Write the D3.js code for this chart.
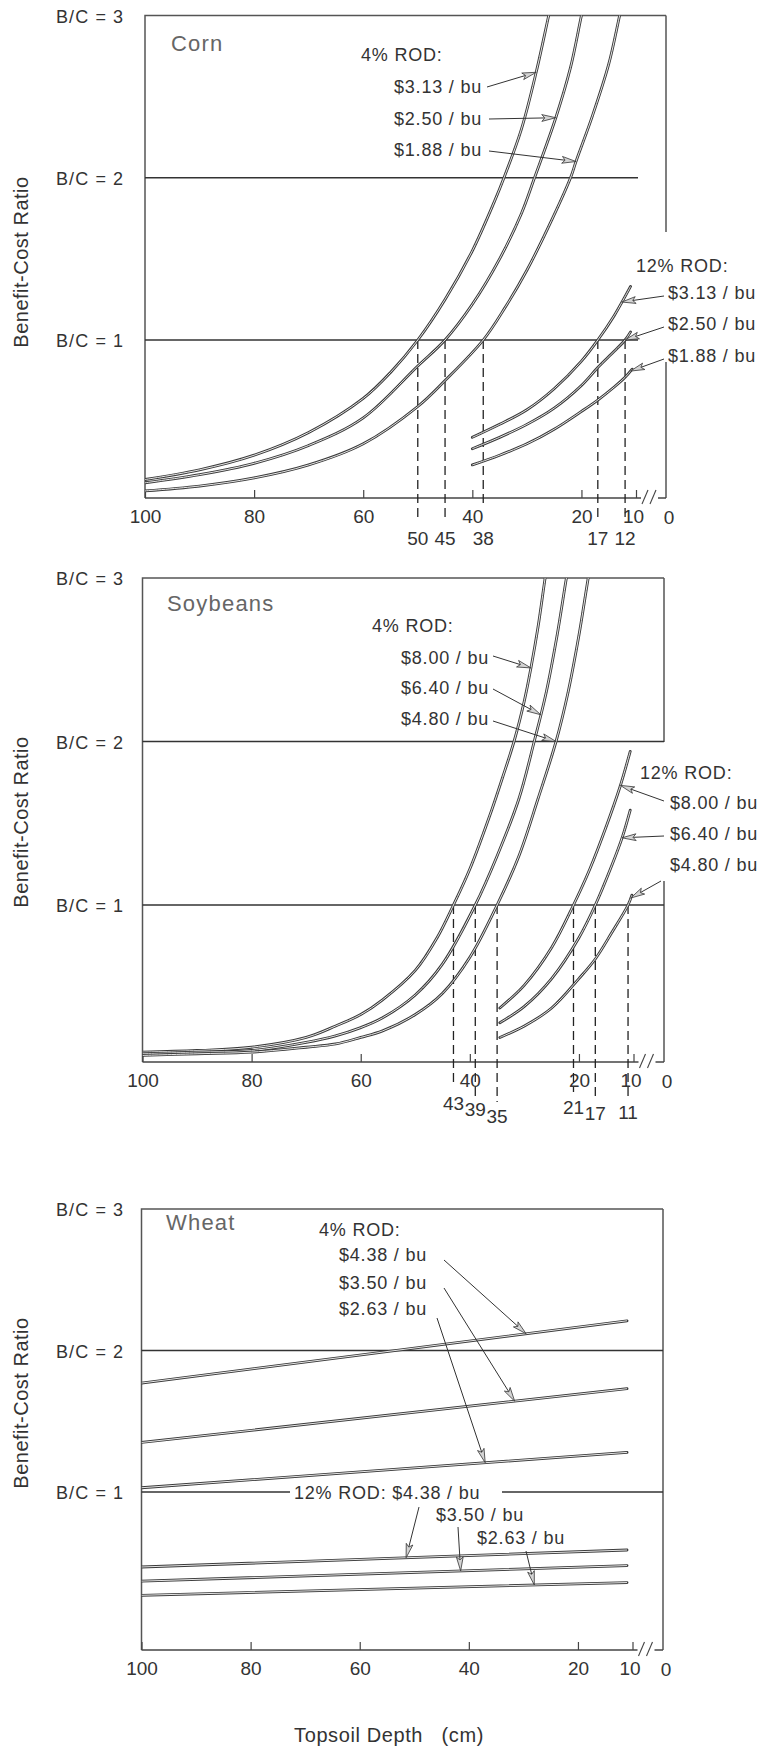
<!DOCTYPE html>
<html>
<head>
<meta charset="utf-8">
<script src="https://cdn.jsdelivr.net/npm/d3@7"></script>
<style>
  body { margin: 0; background: #fff; }
  svg text { font-family: "Liberation Sans", Arial, Helvetica, sans-serif; }
</style>
</head>
<body>
<svg id="chart" width="757" height="1752"></svg>
<script>
// ---------- data: [topsoil depth (cm), benefit-cost ratio] ----------
const depthTicks = [100, 80, 60, 40, 20, 10];
const bcLevels = [1, 2, 3];

// Corn, 4% rate of discount
const corn4_313 = [[100,0.14],[90,0.2],[80,0.29],[70,0.43],[60,0.64],[55,0.8],[50,1.0],[45,1.25],[40,1.55],[36,1.85],[34.2,2.0],[31,2.3],[28.3,2.65],[26,3.0],[25,3.15]];
const corn4_250 = [[100,0.12],[90,0.17],[80,0.24],[70,0.35],[60,0.52],[50,0.84],[45,1.0],[40,1.22],[35,1.5],[31,1.78],[28.6,2.0],[24.7,2.37],[22,2.68],[20,3.0],[19,3.15]];
const corn4_188 = [[100,0.07],[90,0.1],[80,0.15],[70,0.23],[60,0.36],[50,0.59],[45,0.75],[38,1.0],[34,1.2],[30,1.43],[26,1.7],[22,2.0],[21,2.1],[18,2.38],[15,2.7],[13,3.0],[12,3.15]];
// Corn, 12% rate of discount
const corn12_313 = [[40,0.40],[35,0.48],[30,0.57],[25,0.70],[20,0.87],[17,1.0],[14,1.15],[11,1.33]];
const corn12_250 = [[40,0.33],[35,0.40],[30,0.48],[25,0.58],[20,0.72],[17,0.83],[14,0.93],[12,1.0],[11,1.05]];
const corn12_188 = [[40,0.23],[35,0.29],[30,0.36],[25,0.45],[20,0.56],[17,0.63],[14,0.71],[12,0.77],[10.7,0.82]];
const cornBreakEven = [50, 45, 38, 17, 12];

// Soybeans, 4%
const soy4_800 = [[100,0.10],[90,0.11],[80,0.13],[70,0.19],[64.6,0.26],[60,0.33],[56,0.42],[50,0.6],[46,0.8],[43,1.0],[40,1.22],[36,1.58],[34,1.78],[31.9,2.0],[30,2.25],[28.8,2.45],[27.5,2.7],[26.2,3.0],[25.5,3.15]];
const soy4_640 = [[100,0.09],[90,0.10],[80,0.11],[70,0.16],[64.6,0.20],[60,0.25],[56,0.31],[50,0.45],[45,0.64],[39,1.0],[35,1.3],[31,1.65],[28.2,2.0],[26,2.3],[24,2.65],[22.3,3.0],[21.5,3.15]];
const soy4_480 = [[100,0.08],[90,0.09],[80,0.10],[70,0.13],[64.6,0.15],[60,0.19],[56,0.23],[50,0.33],[45,0.46],[40,0.68],[35,1.0],[31,1.3],[27.5,1.65],[24.2,2.0],[22,2.3],[20,2.65],[18.3,3.0],[17.5,3.15]];
// Soybeans, 12%
const soy12_800 = [[34.5,0.37],[30,0.51],[25,0.74],[21,1.0],[18,1.22],[15,1.48],[12.5,1.72],[10.6,1.94]];
const soy12_640 = [[34.5,0.28],[30,0.38],[25,0.55],[20,0.8],[17,1.0],[14,1.24],[12,1.42],[10.6,1.58]];
const soy12_480 = [[34.5,0.19],[30,0.26],[25,0.37],[20,0.55],[17,0.67],[14,0.83],[11,1.0],[10.3,1.06]];
const soyBreakEven = [43, 39, 35, 21, 17, 11];

// Wheat, 4% and 12%
const wheat4_438 = [[100,1.77],[11,2.21]];
const wheat4_350 = [[100,1.35],[11,1.73]];
const wheat4_263 = [[100,1.03],[11,1.28]];
const wheat12_438 = [[100,0.47],[11,0.59]];
const wheat12_350 = [[100,0.37],[11,0.48]];
const wheat12_263 = [[100,0.27],[11,0.36]];

// ---------- layout ----------
const INK = "#333";
const svg = d3.select("#chart");

const panels = [
  {
    name: "Corn", left: 145, right: 666, span: 491, top: 15.5, y1: 340, axisY: 498,
    titleX: 171, titleY: 51, yTitleY: 262,
    bcEnd: { 1: 638, 2: 638 }, rightSegs: [[15.5, 232], [362, 498]],
    rod4: { x: 361, y: 61, labels: [
      { t: "$3.13 / bu", x: 394, y: 93, tail: [487, 87], s: corn4_313, at: 28.3 },
      { t: "$2.50 / bu", x: 394, y: 125, tail: [489, 119], s: corn4_250, at: 24.7 },
      { t: "$1.88 / bu", x: 394, y: 156, tail: [489, 151], s: corn4_188, at: 21 } ] },
    rod12: { x: 636, y: 272, labels: [
      { t: "$3.13 / bu", x: 668, y: 299, tail: [664, 296], s: corn12_313, at: 12.6 },
      { t: "$2.50 / bu", x: 668, y: 330, tail: [664, 327], s: corn12_250, at: 12 },
      { t: "$1.88 / bu", x: 668, y: 362, tail: [664, 359], s: corn12_188, at: 11 } ] },
    series: [corn4_313, corn4_250, corn4_188, corn12_313, corn12_250, corn12_188],
    breakEven: cornBreakEven, dashBottom: [518, 518, 506, 518, 518], dashLabelY: [545, 545, 545, 545, 545]
  },
  {
    name: "Soybeans", left: 142.5, right: 664, span: 491, top: 578, y1: 905, axisY: 1062,
    titleX: 167, titleY: 611, yTitleY: 822,
    bcEnd: {}, rightSegs: [[578, 742], [881, 1062]],
    rod4: { x: 372, y: 632, labels: [
      { t: "$8.00 / bu", x: 401, y: 664, tail: [493, 656], s: soy4_800, at: 28.8 },
      { t: "$6.40 / bu", x: 401, y: 694, tail: [493, 689], s: soy4_640, at: 27 },
      { t: "$4.80 / bu", x: 401, y: 725, tail: [493, 721], s: soy4_480, at: 24.2 } ] },
    rod12: { x: 640, y: 779, labels: [
      { t: "$8.00 / bu", x: 670, y: 809, tail: [664, 801], s: soy12_800, at: 12.4 },
      { t: "$6.40 / bu", x: 670, y: 840, tail: [664, 836], s: soy12_640, at: 12.1 },
      { t: "$4.80 / bu", x: 670, y: 871, tail: [661, 881], s: soy12_480, at: 10.5 } ] },
    series: [soy4_800, soy4_640, soy4_480, soy12_800, soy12_640, soy12_480],
    breakEven: soyBreakEven, dashBottom: [1084, 1098, 1102, 1092, 1100, 1100],
    dashLabelY: [1110, 1116, 1123, 1114, 1120, 1119]
  },
  {
    name: "Wheat", left: 141.5, right: 663, span: 491, top: 1209, y1: 1492, axisY: 1650,
    titleX: 166, titleY: 1230, yTitleY: 1403,
    bcEnd: {}, rightSegs: [[1209, 1650]], bcGap: { 1: [290, 502] },
    rod4: { x: 319, y: 1236, labels: [
      { t: "$4.38 / bu", x: 339, y: 1261, tail: [444, 1260], s: wheat4_438, at: 29.5 },
      { t: "$3.50 / bu", x: 339, y: 1289, tail: [444, 1288], s: wheat4_350, at: 31.6 },
      { t: "$2.63 / bu", x: 339, y: 1315, tail: [437, 1318], s: wheat4_263, at: 37 } ] },
    rod12: { x: 294, y: 1499, title: "12% ROD: $4.38 / bu", labels: [
      { t: null, tail: [419, 1507], s: wheat12_438, at: 51.5 },
      { t: "$3.50 / bu", x: 436, y: 1521, tail: [458, 1527], s: wheat12_350, at: 41.5 },
      { t: "$2.63 / bu", x: 477, y: 1544, tail: [526, 1551], s: wheat12_263, at: 28 } ] },
    series: [wheat4_438, wheat4_350, wheat4_263, wheat12_438, wheat12_350, wheat12_263],
    breakEven: [], dashBottom: [], dashLabelY: []
  }
];

// ---------- helpers ----------
function txt(g, x, y, s, size = 18, anchor = "start", ls = 0.8, fill = INK) {
  return g.append("text").attr("x", x).attr("y", y)
    .attr("font-size", size).attr("text-anchor", anchor)
    .attr("letter-spacing", ls).attr("fill", fill)
    .style("white-space", "pre").text(s);
}

function valueAt(series, depth) {
  for (let i = 0; i < series.length - 1; i++) {
    const [d0, v0] = series[i], [d1, v1] = series[i + 1];
    if (depth <= d0 && depth >= d1) return v0 + (v1 - v0) * (depth - d0) / (d1 - d0);
  }
  return series[series.length - 1][1];
}

function arrow(g, x1, y1, x2, y2) {
  const a = Math.atan2(y2 - y1, x2 - x1);
  const L = 14, w = 3.4;
  const c = Math.cos(a), s = Math.sin(a);
  const bx = x2 - L * c, by = y2 - L * s;
  g.append("line").attr("x1", x1).attr("y1", y1).attr("x2", bx + 3 * c).attr("y2", by + 3 * s)
    .attr("stroke", INK).attr("stroke-width", 1);
  g.append("path")
    .attr("d", `M${x2},${y2}L${bx - s * w},${by + c * w}L${bx + 3 * c},${by + 3 * s}L${bx + s * w},${by - c * w}Z`)
    .attr("fill", "#d4d4d4").attr("stroke", INK).attr("stroke-width", 0.8);
}

// ---------- draw ----------
panels.forEach((p, pi) => {
  const x = d3.scaleLinear().domain([100, 10]).range([p.left, p.left + p.span]);
  const y = d3.scaleLinear().domain([1, 3]).range([p.y1, p.top]);
  const g = svg.append("g");

  const clipId = "clip" + pi;
  g.append("clipPath").attr("id", clipId).append("rect")
    .attr("x", p.left).attr("y", p.top)
    .attr("width", p.right - p.left).attr("height", p.axisY - p.top);

  // frame: left + top, right border pieces
  g.append("path").attr("d", `M${p.left},${p.axisY}V${p.top}H${p.right}`)
    .attr("fill", "none").attr("stroke", "#555").attr("stroke-width", 1.5);
  p.rightSegs.forEach(([a, b]) => g.append("line")
    .attr("x1", p.right).attr("x2", p.right).attr("y1", a).attr("y2", b)
    .attr("stroke", "#555").attr("stroke-width", 1.5));

  // B/C reference lines
  bcLevels.forEach(v => {
    txt(g, 56, y(v) + 7, `B/C = ${v}`, 18, "start", 1.1);
    if (v === 3) return;
    const end = p.bcEnd[v] || p.right;
    const gap = p.bcGap && p.bcGap[v];
    const segs = gap ? [[p.left, gap[0]], [gap[1], end]] : [[p.left, end]];
    segs.forEach(([a, b]) => g.append("line")
      .attr("x1", a).attr("x2", b).attr("y1", y(v)).attr("y2", y(v))
      .attr("stroke", INK).attr("stroke-width", 1.3));
  });

  // y title
  g.append("text").attr("transform", `translate(28,${p.yTitleY}) rotate(-90)`)
    .attr("font-size", 20).attr("text-anchor", "middle").attr("letter-spacing", 0.5)
    .attr("fill", INK).text("Benefit-Cost Ratio");

  // crop name
  txt(g, p.titleX, p.titleY, p.name, 22, "start", 1.2, "#666");

  // x axis with break near 10
  const axis = d3.axisBottom(x).tickValues(depthTicks).tickSizeInner(-8).tickSizeOuter(0)
    .tickPadding(12).tickFormat(d3.format("d"));
  const ax = g.append("g").attr("transform", `translate(0,${p.axisY})`).call(axis);
  ax.select(".domain").remove();
  ax.selectAll(".tick line").attr("stroke", "#444").attr("stroke-width", 1.2);
  ax.selectAll(".tick text").attr("font-size", 19).attr("fill", INK)
    .attr("font-family", '"Liberation Sans", Arial, sans-serif')
    .attr("dx", d => d === 10 ? -3 : 0);
  const x10 = x(10);
  g.append("line").attr("x1", p.left).attr("x2", x10 + 5).attr("y1", p.axisY).attr("y2", p.axisY)
    .attr("stroke", "#444").attr("stroke-width", 1.5);
  g.append("line").attr("x1", x10 + 22).attr("x2", p.right).attr("y1", p.axisY).attr("y2", p.axisY)
    .attr("stroke", "#444").attr("stroke-width", 1.5);
  [9, 17].forEach(o => g.append("line")
    .attr("x1", x10 + o - 3).attr("y1", p.axisY + 6).attr("x2", x10 + o + 3).attr("y2", p.axisY - 8)
    .attr("stroke", "#444").attr("stroke-width", 1.1));
  txt(g, p.right + 3, p.axisY + 26, "0", 19, "middle", 0);

  // break-even dashed drop lines
  p.breakEven.forEach((d, i) => {
    g.append("line").attr("x1", x(d)).attr("x2", x(d)).attr("y1", y(1)).attr("y2", p.dashBottom[i])
      .attr("stroke", "#222").attr("stroke-width", 1.3).attr("stroke-dasharray", "9,5");
    txt(g, x(d), p.dashLabelY[i], String(d), 19, "middle", 0);
  });

  // curves: double-line look
  const line = d3.line().x(d => x(d[0])).y(d => y(d[1])).curve(d3.curveCatmullRom.alpha(0.5));
  const cg = g.append("g").attr("clip-path", `url(#${clipId})`);
  p.series.forEach(s => {
    cg.append("path").attr("d", line(s)).attr("fill", "none")
      .attr("stroke", "#3a3a3a").attr("stroke-width", 2.8).attr("stroke-linecap", "round");
    cg.append("path").attr("d", line(s)).attr("fill", "none")
      .attr("stroke", "#e6e6e6").attr("stroke-width", 1.0);
  });

  // annotations
  txt(g, p.rod4.x, p.rod4.y, "4% ROD:");
  p.rod4.labels.forEach(l => {
    txt(g, l.x, l.y, l.t);
    arrow(g, l.tail[0], l.tail[1], x(l.at), y(valueAt(l.s, l.at)));
  });
  txt(g, p.rod12.x, p.rod12.y, p.rod12.title || "12% ROD:");
  p.rod12.labels.forEach(l => {
    if (l.t) txt(g, l.x, l.y, l.t);
    arrow(g, l.tail[0], l.tail[1], x(l.at), y(valueAt(l.s, l.at)));
  });
});

// shared x title
txt(svg, 389, 1742, "Topsoil Depth   (cm)", 20, "middle", 0.6);
</script>
</body>
</html>
